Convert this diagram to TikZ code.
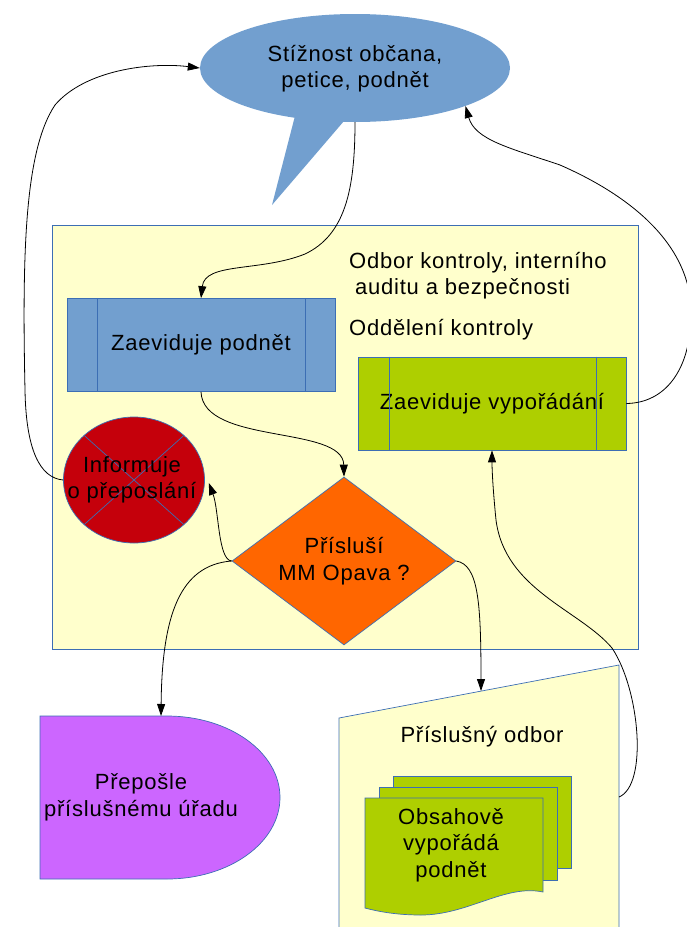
\documentclass[tikz,border=0pt]{standalone}
\usepackage{fontspec}
\newfontfamily\dgfont[LetterSpace=3.5]{Liberation Sans}
\usetikzlibrary{shapes.geometric,arrows.meta}

\definecolor{pblue}{RGB}{114,159,207}
\definecolor{bdblue}{RGB}{60,110,180}
\definecolor{pale}{RGB}{255,255,204}
\definecolor{lime}{RGB}{174,207,0}
\definecolor{darkred}{RGB}{197,0,11}
\definecolor{orng}{RGB}{255,102,0}
\definecolor{lilac}{RGB}{204,102,255}

\tikzset{
  bd/.style={draw=bdblue, line width=0.7pt},
  procbox/.style={bd, rectangle, minimum width=268, minimum height=93, inner sep=0, align=center},
  txt/.style={inner sep=0, align=center},
  conn/.style={draw=black, line width=0.8pt, -{Triangle[length=12pt,width=8pt]}},
}

\begin{document}
\begin{tikzpicture}[x=1pt, y=-1pt, font=\dgfont\fontsize{22}{26.5}\selectfont]
\useasboundingbox (0,0) rectangle (687,927);

% department container
\node[bd, fill=pale, rectangle, minimum width=585.5, minimum height=424, inner sep=0, anchor=north west] (dept) at (52,225) {};
\node[txt, align=left, anchor=west] (deptname) at (349,275.5) {Odbor kontroly, interního\\\hspace*{6pt}auditu a bezpečnosti};
\node[txt, anchor=west] (section) at (349,330) {Oddělení kontroly};

% speech bubble: complaint
\fill[pblue] (296,112) -- (272,205) -- (350,114) -- cycle;
\node[ellipse, fill=pblue, minimum width=310, minimum height=108, inner sep=0] (src) at (355,68) {};
\node[txt] (srcT) at (355,68.5) {Stížnost občana,\\ petice, podnět};

% registration boxes
\node[procbox, fill=pblue] (zp) at (201,345) {Zaeviduje podnět};
\draw[bd] ([xshift=31]zp.north west) -- ([xshift=31]zp.south west)
          ([xshift=-30]zp.north east) -- ([xshift=-30]zp.south east);

\node[procbox, fill=lime] (zv) at (492,403.5) {Zaeviduje vypořádání};
\draw[bd] ([xshift=32]zv.north west) -- ([xshift=32]zv.south west)
          ([xshift=-30]zv.north east) -- ([xshift=-30]zv.south east);

% crossed circle
\node[bd, ellipse, fill=darkred, minimum width=141, minimum height=126, inner sep=0] (inf) at (134,480) {};
\draw[bd] (inf.north east) -- (inf.south west) (inf.north west) -- (inf.south east);
\node[txt] (infT) at (132,480) {Informuje\\o přeposlání};

% decision
\node[bd, diamond, aspect=1.333, fill=orng, minimum width=224, minimum height=168, inner sep=0, align=center] (dia) at (344,561) {Přísluší\\MM Opava ?};

% delay shape
\draw[bd, fill=lilac] (40,716) -- (167,716) .. controls (229.4,716) and (280,752.5) .. (280,797.5)
  .. controls (280,842.5) and (229.4,879) .. (167,879) -- (40,879) -- cycle;
\node[txt] (fwd) at (141,797.5) {Přepošle\\příslušnému úřadu};
\coordinate (fwdTop) at (161,716);

% manual input: responsible department
\draw[bd, fill=pale] (339,718) -- (619,665) -- (619,940) -- (339,940) -- cycle;
\coordinate (manTop) at (481,691);
\coordinate (manR) at (619,797);
\node[txt] (odb) at (482,737) {Příslušný odbor};

% multi-document
\draw[bd, fill=lime] (393,776) rectangle (571,868);
\draw[bd, fill=lime] (379,787) rectangle (557,880);
\draw[bd, fill=lime] (365,798) -- (543,798) -- (543,892)
  .. controls (505,884) and (468,915) .. (421,915)
  .. controls (398,915) and (380,912) .. (365,908) -- cycle;
\node[txt] (doc) at (451,845) {Obsahově\\vypořádá\\podnět};

% connectors
\draw[conn] (src.south) .. controls (355,190) and (345,235) .. (305,254)
  .. controls (260,272) and (205,262) .. (zp.north);
\draw[conn] (zp.south) .. controls (203,445) and (343,425) .. (dia.north);
\draw[conn] (dia.west) .. controls (218,560) and (219,510) .. ([shift={(4,3)}]inf.east);
\draw[conn] (inf.west) .. controls (40,478) and (26,450) .. (25,390)
  .. controls (22,250) and (25,150) .. (55,105)
  .. controls (85,70) and (150,62) .. (src.west);
\draw[conn] (dia.west) .. controls (180,565) and (162,615) .. (fwdTop);
\draw[conn] (dia.east) .. controls (478,565) and (481,600) .. (manTop);
\draw[conn] (manR) .. controls (648,785) and (640,690) .. (612,648)
  .. controls (580,610) and (505,590) .. (496,520)
  .. controls (493,490) and (492,470) .. (zv.south);
\draw[conn] (zv.east) .. controls (665,403) and (692,370) .. (691,310)
  .. controls (690,250) and (640,200) .. (560,165)
  .. controls (510,148) and (475,140) .. (src.-19.4);
\end{tikzpicture}
\end{document}
